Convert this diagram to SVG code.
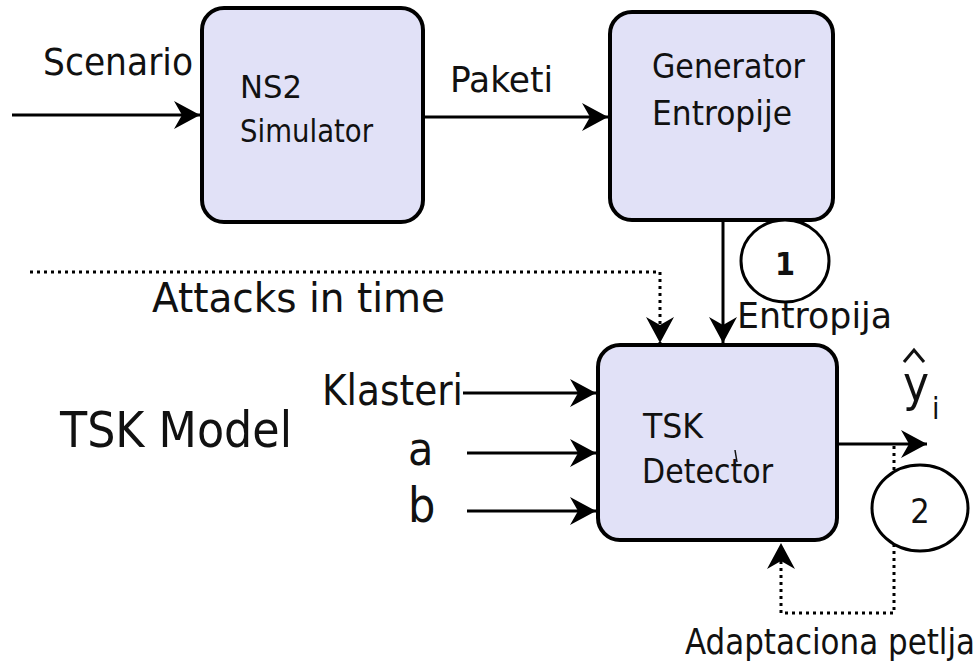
<svg xmlns="http://www.w3.org/2000/svg" width="980" height="666" viewBox="0 0 980 666">
<style>
.box{fill:#e1e1f7;stroke:#000;stroke-width:4}
.ln{fill:none;stroke:#000;stroke-width:3}
.dot{fill:none;stroke:#000;stroke-width:3;stroke-dasharray:3 4}
.circ{fill:#fff;stroke:#000;stroke-width:3}
text{font-family:"DejaVu Sans Condensed","DejaVu Sans",sans-serif;fill:#111}
</style>
<defs>
<marker id="ah" markerUnits="userSpaceOnUse" markerWidth="30" markerHeight="32" refX="0" refY="0" viewBox="-27 -16 30 32" orient="auto">
<path d="M0,0 L-26,-14 L-18,0 L-26,14 Z" fill="#000"/>
</marker>
</defs>
<rect width="980" height="666" fill="#fff"/>
<g id="connectors">
<line class="ln" x1="12" y1="115" x2="200" y2="115" marker-end="url(#ah)"/>
<line class="ln" x1="423" y1="117" x2="608" y2="117" marker-end="url(#ah)"/>
<line class="ln" x1="723" y1="220" x2="723" y2="343" marker-end="url(#ah)"/>
<polyline class="dot" points="30,272 660,272 660,343" marker-end="url(#ah)"/>
<line class="ln" x1="463" y1="393" x2="596" y2="393" marker-end="url(#ah)"/>
<line class="ln" x1="467" y1="453" x2="596" y2="453" marker-end="url(#ah)"/>
<line class="ln" x1="467" y1="511" x2="596" y2="511" marker-end="url(#ah)"/>
<line class="ln" x1="837" y1="444" x2="927" y2="444" marker-end="url(#ah)"/>
<polyline class="dot" points="894,446 894,613 781,613 781,543" marker-end="url(#ah)"/>
</g>
<g id="ns2">
<rect class="box" x="202" y="8" width="221" height="214" rx="22"/>
<text style="font-size:32px" x="240" y="98" textLength="62" lengthAdjust="spacingAndGlyphs">NS2</text>
<text style="font-size:32px" x="240" y="142" textLength="133" lengthAdjust="spacingAndGlyphs">Simulator</text>
</g>
<g id="generator">
<rect class="box" x="610" y="12" width="223" height="208" rx="22"/>
<text style="font-size:34px" x="652" y="78" textLength="153" lengthAdjust="spacingAndGlyphs">Generator</text>
<text style="font-size:34px" x="652" y="125" textLength="140" lengthAdjust="spacingAndGlyphs">Entropije</text>
</g>
<g id="tsk">
<rect class="box" x="598" y="345" width="239" height="195" rx="22"/>
<text style="font-size:34px" x="643" y="438" textLength="60" lengthAdjust="spacingAndGlyphs">TSK</text>
<text style="font-size:34px" x="642" y="483" textLength="131" lengthAdjust="spacingAndGlyphs">Detector</text>
<line x1="735" y1="450" x2="737" y2="462" stroke="#111" stroke-width="1.5"/>
</g>
<g id="circle1">
<ellipse class="circ" cx="785" cy="261" rx="44" ry="41"/>
<text style="font-size:32px;font-weight:bold" x="785" y="275" text-anchor="middle">1</text>
</g>
<g id="circle2">
<ellipse class="circ" cx="920" cy="508" rx="48" ry="43"/>
<text style="font-size:34px" x="920" y="523" text-anchor="middle">2</text>
</g>
<g id="labels">
<text style="font-size:38px" x="43" y="75" textLength="150" lengthAdjust="spacingAndGlyphs">Scenario</text>
<text style="font-size:36px" x="450" y="92" textLength="103" lengthAdjust="spacingAndGlyphs">Paketi</text>
<text style="font-size:36px" x="737" y="328" textLength="155" lengthAdjust="spacingAndGlyphs">Entropija</text>
<text style="font-size:41px" x="152" y="312" textLength="293" lengthAdjust="spacingAndGlyphs">Attacks in time</text>
<text style="font-size:50px" x="60" y="447" textLength="232" lengthAdjust="spacingAndGlyphs">TSK Model</text>
<text style="font-size:42px" x="322" y="405" textLength="141" lengthAdjust="spacingAndGlyphs">Klasteri</text>
<text style="font-size:46px" x="408" y="465">a</text>
<text style="font-size:48px" x="408" y="522">b</text>
<text style="font-size:49px" x="903" y="401">y</text>
<text style="font-size:30px" x="932" y="419">i</text>
<path d="M904,362 L914,350 L924,362" fill="none" stroke="#111" stroke-width="3"/>
<text style="font-size:35px" x="685" y="654" textLength="290" lengthAdjust="spacingAndGlyphs">Adaptaciona petlja</text>
</g>
</svg>
